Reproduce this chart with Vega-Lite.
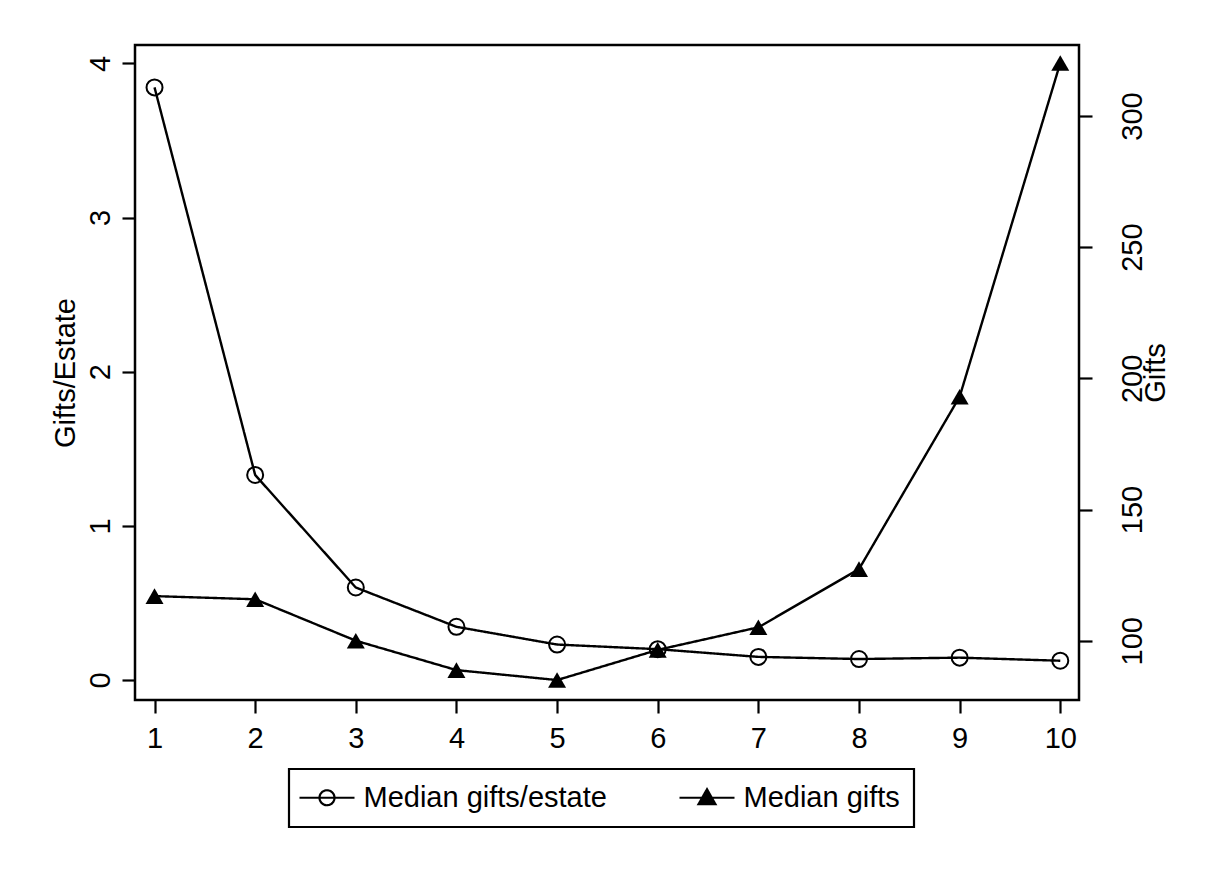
{
  "$schema": "https://vega.github.io/schema/vega-lite/v6.json",
  "autosize": "none",
  "width": 944,
  "height": 655,
  "padding": {"left": 135, "top": 45, "right": 133, "bottom": 176},
  "background": "white",
  "config": {
    "view": {"stroke": "black", "strokeWidth": 2.5},
    "font": "Liberation Sans",
    "axis": {
      "domain": false,
      "grid": false,
      "tickColor": "black",
      "tickWidth": 2.2,
      "tickSize": 13,
      "labelColor": "black",
      "labelFont": "Liberation Sans",
      "labelFontSize": 29,
      "titleColor": "black",
      "titleFont": "Liberation Sans",
      "titleFontSize": 29,
      "titleFontWeight": "normal"
    }
  },
  "data": {
    "values": [
      {"decile": 1, "ratio": 3.844, "gifts": 117.0},
      {"decile": 2, "ratio": 1.33, "gifts": 115.8},
      {"decile": 3, "ratio": 0.60, "gifts": 100.0},
      {"decile": 4, "ratio": 0.345, "gifts": 88.8},
      {"decile": 5, "ratio": 0.23, "gifts": 85.0},
      {"decile": 6, "ratio": 0.20, "gifts": 96.5},
      {"decile": 7, "ratio": 0.15, "gifts": 105.1},
      {"decile": 8, "ratio": 0.136, "gifts": 127.3},
      {"decile": 9, "ratio": 0.145, "gifts": 193.0},
      {"decile": 10, "ratio": 0.125, "gifts": 320.2}
    ]
  },
  "encoding": {
    "x": {
      "field": "decile",
      "type": "quantitative",
      "scale": {"domain": [0.806, 10.186], "nice": false, "zero": false},
      "axis": {
        "title": null,
        "values": [1, 2, 3, 4, 5, 6, 7, 8, 9, 10],
        "labelAngle": 0,
        "labelPadding": 11,
        "labelFlush": false,
        "labelOverlap": false
      }
    }
  },
  "layer": [
    {
      "encoding": {
        "y": {
          "field": "ratio",
          "type": "quantitative",
          "scale": {"domain": [-0.1297, 4.119], "nice": false, "zero": false},
          "axis": {
            "orient": "left",
            "title": "Gifts/Estate",
            "values": [0, 1, 2, 3, 4],
            "labelAngle": -90,
            "labelAlign": "center",
            "labelBaseline": "alphabetic",
            "labelPadding": 13,
            "labelFlush": false,
            "titlePadding": 6
          }
        }
      },
      "layer": [
        {
          "mark": {"type": "line", "color": "black", "strokeWidth": 2.4},
          "encoding": {
            "strokeDash": {
              "datum": "Median gifts/estate",
              "type": "nominal",
              "scale": {"domain": ["Median gifts/estate", "Median gifts"], "range": [[1, 0], [1, 0]]},
              "legend": {
                "orient": "none",
                "legendX": 154,
                "legendY": 724,
                "direction": "horizontal",
                "title": null,
                "labelFontSize": 29,
                "labelFont": "Liberation Sans",
                "labelColor": "black",
                "labelLimit": 0,
                "symbolSize": 400,
                "symbolStrokeWidth": 2,
                "symbolStrokeColor": "black",
                "symbolOffset": 9.5,
                "labelOffset": 22,
                "columnPadding": 68,
                "padding": 14,
                "strokeColor": "black",
                "encode": {
                  "symbols": {
                    "update": {
                      "shape": {"signal": "datum.value === 'Median gifts' ? 'M-2.75,0H2.75M0,-0.85L0.85,0.65L-0.85,0.65Z' : 'M-2.75,0H2.75M0.75,0A0.75,0.75 0 1 1 -0.75,0A0.75,0.75 0 1 1 0.75,0'"},
                      "fill": {"signal": "datum.value === 'Median gifts' ? 'black' : 'transparent'"},
                      "stroke": {"value": "black"},
                      "strokeWidth": {"value": 2.2},
                      "opacity": {"value": 1}
                    }
                  },
                  "legend": {"update": {"strokeWidth": {"value": 2.2}}}
                }
              }
            }
          }
        },
        {
          "mark": {"type": "point", "shape": "circle", "filled": false, "stroke": "black", "strokeWidth": 2, "size": 256, "opacity": 1},
          "encoding": {}
        }
      ]
    },
    {
      "encoding": {
        "y": {
          "field": "gifts",
          "type": "quantitative",
          "scale": {"domain": [77.4, 327.06], "nice": false, "zero": false},
          "axis": {
            "orient": "right",
            "title": "Gifts",
            "values": [100, 150, 200, 250, 300],
            "labelAngle": -90,
            "labelAlign": "center",
            "labelBaseline": "alphabetic",
            "labelPadding": 49,
            "labelFlush": false,
            "titleAngle": 270,
            "titleBaseline": "top",
            "titlePadding": -6
          }
        }
      },
      "layer": [
        {
          "mark": {"type": "line", "color": "black", "strokeWidth": 2.4},
          "encoding": {
            "strokeDash": {
              "datum": "Median gifts",
              "type": "nominal",
              "scale": {"domain": ["Median gifts/estate", "Median gifts"], "range": [[1, 0], [1, 0]]}
            }
          }
        },
        {
          "mark": {"type": "point", "shape": "triangle-up", "filled": true, "color": "black", "size": 324, "opacity": 1},
          "encoding": {}
        }
      ]
    }
  ],
  "resolve": {"scale": {"y": "independent"}}
}
